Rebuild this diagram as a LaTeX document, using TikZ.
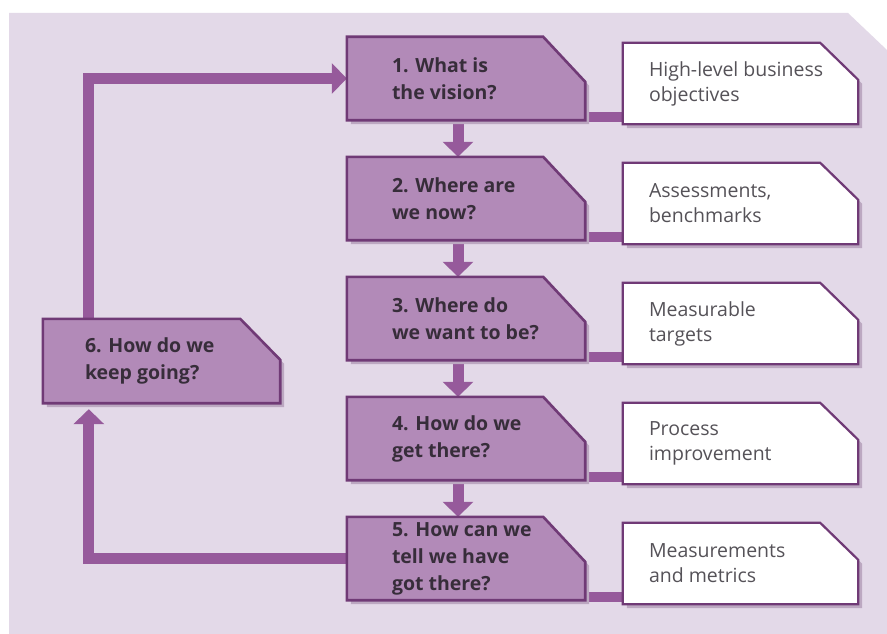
\documentclass[tikz,border=0pt]{standalone}
\usepackage{fontspec}
\setmainfont{Open Sans}
\usetikzlibrary{arrows.meta}
\definecolor{panel}{RGB}{227,217,232}
\definecolor{pfill}{RGB}{178,138,184}
\definecolor{pline}{RGB}{150,90,155}
\definecolor{pborder}{RGB}{112,58,118}
\definecolor{shad}{RGB}{188,168,193}
\definecolor{ptext}{RGB}{55,45,58}
\definecolor{wtext}{RGB}{85,82,88}

\newcommand\cutshape[4]{% #1 node, #2 cut x, #3 cut y, #4 style
  \path[#4] (#1.north west) -- ([xshift=-#2pt]#1.north east) -- ([yshift=-#3pt]#1.north east)
    -- (#1.south east) -- (#1.south west) -- cycle;}
\newcommand\cutshadow[3]{% #1 node, #2 cut x, #3 cut y
  \fill[shad] ([shift={(4pt,-4pt)}]#1.north west) -- ([shift={(4pt-#2pt,-4pt)}]#1.north east)
    -- ([shift={(4pt,-4pt-#3pt)}]#1.north east) -- ([shift={(4pt,-4pt)}]#1.south east)
    -- ([shift={(4pt,-4pt)}]#1.south west) -- cycle;}

\begin{document}
\begin{tikzpicture}[x=1pt,y=-1pt,
  pbox/.style={rectangle, inner sep=0pt, minimum width=238pt, minimum height=83pt},
  wbox/.style={rectangle, inner sep=0pt, minimum width=235pt, minimum height=81pt},
  ptxt/.style={anchor=west, inner sep=0pt, align=left, text=ptext,
    font=\fontsize{19.5}{27}\selectfont\bfseries},
  wtxt/.style={anchor=west, inner sep=0pt, align=left, text=wtext,
    font=\fontsize{19.5}{25}\selectfont},
  pshape/.style={fill=pfill, draw=pborder, line width=2.6pt, line join=miter},
  wshape/.style={fill=white, draw=pborder, line width=2.2pt, line join=miter},
  flow/.style={draw=pline, line width=11pt, line join=miter,
    -{Triangle[width=30pt,length=15pt]}},
  bar/.style={draw=pline, line width=10pt}
]
\useasboundingbox (0,0) rectangle (887,634);
\fill[white] (0,0) rectangle (887,634);
\fill[panel] (9,13) -- (848,13) -- (887,50) -- (887,634) -- (9,634) -- cycle;

% nodes (boxes)
\foreach \k in {1,...,5}{
  \node[pbox] (p\k) at (466,{78.5+120*(\k-1)}) {};
  \node[wbox] (w\k) at (740.5,{83.5+120*(\k-1)}) {};
}
\node[pbox, minimum width=237pt, minimum height=84pt] (p6) at (161.5,361) {};

\coordinate (p6top) at ([xshift=46pt]p6.north west);
\coordinate (p6bot) at ([xshift=46pt]p6.south west);

% connectors
\draw[flow] (p6top) -- (p6top |- p1.west) -- (p1.west);
\draw[flow] (p5.west) -- (p5.west -| p6bot) -- ([yshift=-6pt]p6bot);
\foreach \a/\b in {1/2,2/3,3/4,4/5}{
  \draw[flow] ([xshift=-8pt]p\a.south) -- ([xshift=-8pt]p\b.north);
}
\foreach \k in {1,...,5}{
  \draw[bar] ([yshift=3pt]p\k.south east) -- ([yshift=3pt]p\k.south east -| w\k.west);
}

% shadows and shapes
\foreach \k in {1,...,5}{
  \cutshadow{p\k}{42}{45}
  \cutshadow{w\k}{38}{37}
  \cutshape{p\k}{42}{45}{pshape}
  \cutshape{w\k}{38}{37}{wshape}
}
\cutshadow{p6}{40}{41}
\cutshape{p6}{40}{41}{pshape}

% texts
\node[ptxt] (t1) at ([xshift=45pt]p1.west) {1. What is\\the vision?};
\node[ptxt] (t2) at ([xshift=45pt]p2.west) {2. Where are\\we now?};
\node[ptxt] (t3) at ([xshift=45pt]p3.west) {3. Where do\\we want to be?};
\node[ptxt] (t4) at ([xshift=45pt]p4.west) {4. How do we\\get there?};
\node[ptxt] (t5) at ([xshift=45pt]p5.west) {5. How can we\\tell we have\\got there?};
\node[ptxt] (t6) at ([xshift=42pt]p6.west) {6. How do we\\keep going?};

\node[wtxt] (u1) at ([xshift=26pt]w1.west) {High-level business\\objectives};
\node[wtxt] (u2) at ([xshift=26pt]w2.west) {Assessments,\\benchmarks};
\node[wtxt] (u3) at ([xshift=26pt]w3.west) {Measurable\\targets};
\node[wtxt] (u4) at ([xshift=26pt]w4.west) {Process\\improvement};
\node[wtxt] (u5) at ([xshift=26pt]w5.west) {Measurements\\and metrics};
\end{tikzpicture}
\end{document}
